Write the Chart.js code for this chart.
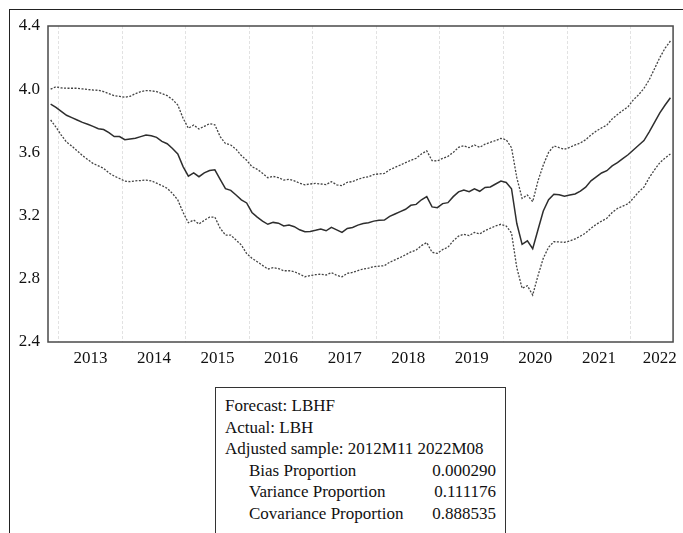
<!DOCTYPE html>
<html>
<head>
<meta charset="utf-8">
<script src="https://cdn.jsdelivr.net/npm/chart.js@4"></script>
<style>
  body { margin: 0; background: #fff; }
  #wrap { position: relative; width: 683px; height: 533px; overflow: hidden; }
  #chart { position: absolute; left: 0; top: 0; }
  #frame { position: absolute; left: 9px; top: 9px; right: -2px; bottom: -2px; border-left: 1px solid #222; border-top: 1px solid #222; }
  #stats {
    position: absolute; left: 215px; top: 387px; width: 291px; height: 160px;
    border: 1px solid #333; box-sizing: border-box; background: #fff;
    font-family: "Liberation Serif", "Times New Roman", serif; font-size: 17px; color: #111;
    padding: 7px 9px 0 9px; line-height: 21.5px;
  }
  #stats .row { display: flex; justify-content: space-between; white-space: nowrap; }
  #stats .ind { padding-left: 24px; }
</style>
</head>
<body>
<div id="wrap">
  <canvas id="chart" width="683" height="533"></canvas>
  <div id="frame"></div>
  <div id="stats">
    <div class="row">Forecast: LBHF</div>
    <div class="row">Actual: LBH</div>
    <div class="row">Adjusted sample: 2012M11 2022M08</div>
    <div class="row ind"><span>Bias Proportion</span><span>0.000290</span></div>
    <div class="row ind"><span>Variance Proportion</span><span>0.111176</span></div>
    <div class="row ind"><span>Covariance Proportion</span><span>0.888535</span></div>
  </div>
</div>
<script>
// monthly sample 2012M11 .. 2022M08
const months = [];
for (let y = 2012, m = 11; months.length < 118; m++) {
    if (m > 12) { m = 1; y++; }
    months.push(y + 'M' + String(m).padStart(2, '0'));
}

const years = ['2013', '2014', '2015', '2016', '2017', '2018', '2019', '2020', '2021', '2022'];
const yTicks = [2.4, 2.8, 3.2, 3.6, 4.0, 4.4];

// forecast LBHF
const forecast = [
    3.905, 3.885, 3.86, 3.835, 3.82, 3.805, 3.79, 3.778, 3.765, 3.75, 3.745, 3.725,
    3.70, 3.70, 3.68, 3.685, 3.69, 3.70, 3.71, 3.705, 3.695, 3.67, 3.655, 3.625,
    3.59, 3.51, 3.45, 3.47, 3.446, 3.47, 3.485, 3.49, 3.43, 3.37, 3.36, 3.33,
    3.30, 3.28, 3.22, 3.19, 3.165, 3.145, 3.157, 3.152, 3.134, 3.14, 3.13, 3.11,
    3.098, 3.10, 3.107, 3.115, 3.104, 3.126, 3.11, 3.094, 3.119, 3.125, 3.14, 3.15,
    3.155, 3.165, 3.17, 3.172, 3.195, 3.21, 3.225, 3.24, 3.265, 3.271, 3.30, 3.32,
    3.255, 3.25, 3.276, 3.282, 3.32, 3.35, 3.362, 3.351, 3.37, 3.354, 3.378, 3.381,
    3.40, 3.419, 3.41, 3.37, 3.15, 3.018, 3.04, 2.99, 3.11, 3.229, 3.30, 3.335,
    3.332, 3.322, 3.33, 3.337, 3.355, 3.38, 3.42, 3.445, 3.47, 3.484, 3.515, 3.535,
    3.56, 3.585, 3.615, 3.645, 3.675, 3.73, 3.79, 3.85, 3.90, 3.946
];

// forecast + 2 S.E.
const upper = [
    4.00, 4.015, 4.008, 4.006, 4.006, 4.006, 4.002, 3.998, 3.995, 3.993, 3.985, 3.972,
    3.959, 3.955, 3.949, 3.955, 3.972, 3.985, 3.991, 3.99, 3.985, 3.972, 3.959, 3.935,
    3.90, 3.816, 3.753, 3.773, 3.748, 3.765, 3.782, 3.775, 3.70, 3.656, 3.647, 3.62,
    3.58, 3.55, 3.51, 3.493, 3.468, 3.44, 3.448, 3.44, 3.425, 3.43, 3.42, 3.405,
    3.395, 3.40, 3.404, 3.40, 3.396, 3.415, 3.395, 3.39, 3.411, 3.415, 3.43, 3.44,
    3.446, 3.46, 3.464, 3.467, 3.49, 3.505, 3.52, 3.535, 3.55, 3.563, 3.59, 3.61,
    3.548, 3.546, 3.562, 3.575, 3.60, 3.632, 3.642, 3.63, 3.647, 3.632, 3.652, 3.664,
    3.675, 3.689, 3.68, 3.63, 3.44, 3.309, 3.33, 3.288, 3.42, 3.52, 3.60, 3.641,
    3.63, 3.62, 3.632, 3.647, 3.66, 3.68, 3.71, 3.735, 3.755, 3.773, 3.812, 3.84,
    3.865, 3.889, 3.932, 3.965, 4.005, 4.06, 4.13, 4.20, 4.26, 4.305
];

// forecast - 2 S.E.
const lower = [
    3.805, 3.76, 3.71, 3.665, 3.64, 3.61, 3.58, 3.555, 3.53, 3.515, 3.499, 3.47,
    3.45, 3.435, 3.418, 3.415, 3.42, 3.422, 3.425, 3.42, 3.405, 3.39, 3.373, 3.34,
    3.299, 3.22, 3.155, 3.172, 3.147, 3.17, 3.19, 3.19, 3.12, 3.077, 3.077, 3.045,
    3.014, 2.96, 2.93, 2.908, 2.885, 2.862, 2.87, 2.865, 2.851, 2.851, 2.845, 2.83,
    2.813, 2.82, 2.826, 2.829, 2.824, 2.839, 2.822, 2.812, 2.835, 2.84, 2.852, 2.862,
    2.867, 2.877, 2.88, 2.883, 2.905, 2.92, 2.935, 2.952, 2.97, 2.982, 3.01, 3.029,
    2.968, 2.961, 2.985, 3.0, 3.04, 3.07, 3.082, 3.073, 3.094, 3.084, 3.105, 3.12,
    3.135, 3.145, 3.134, 3.09, 2.87, 2.74, 2.756, 2.697, 2.82, 2.93, 3.0, 3.035,
    3.033, 3.031, 3.04, 3.052, 3.07, 3.09, 3.12, 3.145, 3.165, 3.183, 3.22, 3.245,
    3.26, 3.275, 3.31, 3.35, 3.38, 3.44, 3.49, 3.535, 3.565, 3.59
];

const serif = '"Liberation Serif", "Times New Roman", serif';

// January of each year sits between month index 12k+1 and 12k+2
const janIdx = years.map(y => months.indexOf(y + 'M01') - 0.5);
const labelPos = janIdx.map(v => v + 6);
labelPos[labelPos.length - 1] = 115; // last year label pulled inside the plot

const toPts = arr => arr.map((v, i) => ({ x: i, y: v }));

const framePlugin = {
    id: 'frame',
    afterDraw(chart) {
        const a = chart.chartArea, c = chart.ctx;
        c.save();
        c.strokeStyle = '#4a4a4a';
        c.lineWidth = 1.5;
        c.strokeRect(a.left, a.top, a.right - a.left, a.bottom - a.top);
        c.restore();
    }
};

new Chart(document.getElementById('chart'), {
    type: 'line',
    data: {
        datasets: [
            { label: 'LBHF', data: toPts(forecast), borderColor: '#2e2e2e', borderWidth: 1.5 },
            { label: '+2 S.E.', data: toPts(upper), borderColor: '#444', borderWidth: 1.3, borderDash: [2, 1.5] },
            { label: '-2 S.E.', data: toPts(lower), borderColor: '#444', borderWidth: 1.3, borderDash: [2, 1.5] }
        ]
    },
    options: {
        responsive: false,
        animation: false,
        devicePixelRatio: 1,
        elements: { point: { radius: 0 }, line: { tension: 0 } },
        layout: { padding: { left: 10, right: 8, top: 26, bottom: 161 } },
        plugins: { legend: { display: false }, tooltip: { enabled: false } },
        scales: {
            x: {
                type: 'linear',
                min: -0.5,
                max: 117.5,
                afterFit: s => { s.height = 30; },
                afterBuildTicks: s => {
                    const t = janIdx.map(v => ({ value: v, grid: true }))
                        .concat(labelPos.map(v => ({ value: v, grid: false })));
                    s.ticks = t.sort((p, q) => p.value - q.value);
                },
                grid: {
                    drawTicks: false,
                    color: ctx => (ctx.tick && ctx.tick.grid) ? '#e2e2e2' : 'rgba(0,0,0,0)',
                    lineWidth: 1
                },
                border: { display: false, dash: [3, 2] },
                ticks: {
                    autoSkip: false,
                    maxRotation: 0,
                    padding: 6,
                    color: '#111',
                    font: { family: serif, size: 17 },
                    callback: v => {
                        const k = labelPos.indexOf(v);
                        return k >= 0 ? years[k] : '';
                    }
                }
            },
            y: {
                min: 2.4,
                max: 4.4,
                afterFit: s => { s.width = 38; },
                afterBuildTicks: s => { s.ticks = yTicks.map(v => ({ value: v })); },
                grid: { display: false, drawTicks: false },
                border: { display: false },
                ticks: {
                    padding: 8,
                    color: '#111',
                    font: { family: serif, size: 17 },
                    callback: v => v.toFixed(1)
                }
            }
        }
    },
    plugins: [framePlugin]
});
</script>
</body>
</html>
